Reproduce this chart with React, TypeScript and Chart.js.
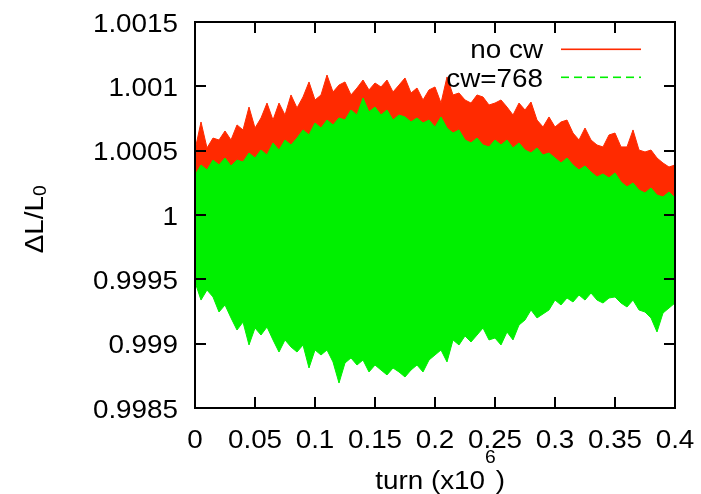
import React, { useEffect, useRef } from "react";
import { Chart, registerables } from "chart.js";

Chart.register(...registerables);

// turn (x10^6)
const turns = [
  0, 0.005, 0.01, 0.015, 0.02, 0.025, 0.03, 0.035, 0.04, 0.045,
  0.05, 0.055, 0.06, 0.065, 0.07, 0.075, 0.08, 0.085, 0.09, 0.095,
  0.1, 0.105, 0.11, 0.115, 0.12, 0.125, 0.13, 0.135, 0.14, 0.145,
  0.15, 0.155, 0.16, 0.165, 0.17, 0.175, 0.18, 0.185, 0.19, 0.195,
  0.2, 0.205, 0.21, 0.215, 0.22, 0.225, 0.23, 0.235, 0.24, 0.245,
  0.25, 0.255, 0.26, 0.265, 0.27, 0.275, 0.28, 0.285, 0.29, 0.295,
  0.3, 0.305, 0.31, 0.315, 0.32, 0.325, 0.33, 0.335, 0.34, 0.345,
  0.35, 0.355, 0.36, 0.365, 0.37, 0.375, 0.38, 0.385, 0.39, 0.395,
  0.4,
];

// "no cw": upper / lower envelope of the oscillation
const noCwUpper = [
  1.000505, 1.000723, 1.000521, 1.000598, 1.000583, 1.000653, 1.000583, 1.0007, 1.000661, 1.000839,
  1.000676, 1.000754, 1.00087, 1.000738, 1.00087, 1.000777, 1.000933, 1.000832, 1.000917, 1.001034,
  1.000894, 1.000933, 1.001088, 1.000956, 1.00101, 1.001034, 1.000933, 1.000987, 1.001049, 1.000972,
  1.001026, 1.000995, 1.001049, 1.000956, 1.00101, 1.001065, 1.000948, 1.000987, 1.000894, 1.000972,
  1.000995, 1.00087, 1.001073, 1.000933, 1.000948, 1.000894, 1.00087, 1.000933, 1.000917, 1.000855,
  1.00087, 1.000894, 1.000839, 1.000777, 1.00087, 1.000816, 1.000878, 1.000738, 1.000684, 1.000762,
  1.000684, 1.000723, 1.000738, 1.000637, 1.000583, 1.000676, 1.000583, 1.000544, 1.000529, 1.000622,
  1.000637, 1.000529, 1.000529, 1.000661, 1.000505, 1.00049, 1.000505, 1.000443, 1.000404, 1.000373,
  1.000389,
];
const noCwLower = [
  0.9996, 0.99946, 0.99955, 0.9995, 0.99938, 0.99943, 0.99933, 0.99922, 0.9993, 0.99912,
  0.99925, 0.99918, 0.99926, 0.99915, 0.99905, 0.99915, 0.9991, 0.99906, 0.99911, 0.99894,
  0.99908, 0.99903, 0.99907, 0.99898, 0.99885, 0.99897, 0.99901, 0.99895, 0.99899, 0.99891,
  0.99895, 0.99891, 0.99888, 0.99893, 0.9989, 0.99887, 0.99892, 0.99896, 0.9989, 0.999,
  0.99903, 0.99907, 0.99898, 0.99915, 0.99911, 0.99918, 0.99914, 0.99919, 0.99925, 0.99915,
  0.99917, 0.99912, 0.99922, 0.99915, 0.99928, 0.99931, 0.99938, 0.99933, 0.99935, 0.99938,
  0.99946, 0.99942, 0.99948, 0.99944, 0.9995, 0.99946, 0.99952, 0.99946, 0.99943, 0.99948,
  0.99949, 0.99944, 0.99941, 0.99946, 0.99938, 0.99937, 0.99933, 0.99922, 0.99936, 0.9994,
  0.99943,
];

// "cw=768": upper / lower envelope
const cw768Upper = [
  1.000311, 1.000389, 1.00035, 1.000427, 1.000389, 1.000443, 1.000381, 1.000427, 1.000412, 1.000482,
  1.000443, 1.000505, 1.000466, 1.00056, 1.000505, 1.000583, 1.000544, 1.000598, 1.000661, 1.000622,
  1.000715, 1.000676, 1.000738, 1.0007, 1.000754, 1.000738, 1.000816, 1.000777, 1.000909, 1.000801,
  1.000839, 1.000777, 1.000816, 1.000738, 1.000777, 1.000762, 1.000723, 1.000754, 1.000715, 1.000738,
  1.000684, 1.000762, 1.000676, 1.000637, 1.000661, 1.000583, 1.00056, 1.000598, 1.000544, 1.000529,
  1.000583, 1.000544, 1.000583, 1.000521, 1.00056, 1.000505, 1.000482, 1.000521, 1.000466, 1.000482,
  1.000443, 1.000404, 1.000443, 1.000389, 1.00035, 1.000381, 1.000334, 1.000295, 1.000319, 1.000288,
  1.000327, 1.000257, 1.000218, 1.000249, 1.000194, 1.000171, 1.00021, 1.000155, 1.00014, 1.000179,
  1.000132,
];
const cw768Lower = [
  0.999479, 0.999339, 0.999417, 0.999363, 0.999246, 0.999301, 0.9992, 0.999106, 0.999168, 0.99899,
  0.999122, 0.999067, 0.99913, 0.999029, 0.998935, 0.999029, 0.998974, 0.998935, 0.99899, 0.998811,
  0.998951, 0.998912, 0.998951, 0.998858, 0.998694, 0.99885, 0.998889, 0.998834, 0.998873, 0.99878,
  0.998834, 0.998795, 0.998757, 0.998811, 0.99878, 0.998741, 0.998795, 0.998834, 0.99878, 0.998873,
  0.998912, 0.998951, 0.998858, 0.999029, 0.99899, 0.99906, 0.999013, 0.999067, 0.999122, 0.999029,
  0.999044, 0.99899, 0.999091, 0.999029, 0.999145, 0.999184, 0.999262, 0.9992, 0.999231, 0.999262,
  0.999339, 0.999301, 0.999355, 0.999324, 0.999378, 0.999339, 0.999394, 0.999339, 0.999316, 0.999355,
  0.999363, 0.999316, 0.999285, 0.999339, 0.999262, 0.999246, 0.9992, 0.999091, 0.999238, 0.999277,
  0.999316,
];

const seriesLabels = ["no cw", "cw=768"];
const xTicks = [0, 0.05, 0.1, 0.15, 0.2, 0.25, 0.3, 0.35, 0.4];
const xTickLabels = ["0", "0.05", "0.1", "0.15", "0.2", "0.25", "0.3", "0.35", "0.4"];
const yTicks = [0.9985, 0.999, 0.9995, 1, 1.0005, 1.001, 1.0015];
const yTickLabels = ["0.9985", "0.999", "0.9995", "1", "1.0005", "1.001", "1.0015"];

const RED = "#ff2a00";
const GREEN = "#00f000";
const FONT = "'Liberation Sans', Arial, Helvetica, sans-serif";
const SX = 1.07;

function drawText(ctx: CanvasRenderingContext2D, text: string, x: number, y: number, align: CanvasTextAlign, size: number) {
  ctx.save();
  ctx.font = `${size}px ${FONT}`;
  ctx.fillStyle = "#000";
  ctx.textAlign = align;
  ctx.textBaseline = "alphabetic";
  ctx.translate(x, y);
  ctx.scale(SX, 1);
  ctx.fillText(text, 0, 0);
  ctx.restore();
}

function textW(ctx: CanvasRenderingContext2D, text: string, size: number) {
  ctx.save();
  ctx.font = `${size}px ${FONT}`;
  const w = ctx.measureText(text).width * SX;
  ctx.restore();
  return w;
}

const gnuplotFrame = {
  id: "gnuplotFrame",
  afterDraw(chart: any) {
    const ctx: CanvasRenderingContext2D = chart.ctx;
    const { left, right, top, bottom } = chart.chartArea;
    const xs = chart.scales.x;
    const ys = chart.scales.y;
    const T = 11;
    ctx.save();
    ctx.strokeStyle = "#000";
    ctx.lineWidth = 2;
    ctx.setLineDash([]);
    // ticks (inward, mirrored)
    ctx.beginPath();
    xs.ticks.forEach((t: any) => {
      const px = Math.round(xs.getPixelForValue(t.value));
      ctx.moveTo(px, bottom); ctx.lineTo(px, bottom - T);
      ctx.moveTo(px, top); ctx.lineTo(px, top + T);
    });
    ys.ticks.forEach((t: any) => {
      const py = Math.round(ys.getPixelForValue(t.value));
      ctx.moveTo(left, py); ctx.lineTo(left + T, py);
      ctx.moveTo(right, py); ctx.lineTo(right - T, py);
    });
    ctx.stroke();
    ctx.strokeRect(left, top, right - left, bottom - top);
    ctx.restore();

    // tick labels
    xs.ticks.forEach((t: any, i: number) => {
      const px = xs.getPixelForValue(t.value);
      drawText(ctx, xTickLabels[i], px, 448, "center", 26);
    });
    ys.ticks.forEach((t: any, i: number) => {
      const py = ys.getPixelForValue(t.value);
      drawText(ctx, yTickLabels[i], 178, py + 9.5, "right", 26);
    });

    // x title: turn (x10^6)
    const anchorX = 485;
    const w2 = textW(ctx, "6", 18);
    drawText(ctx, "turn (x10", anchorX, 489, "right", 26);
    drawText(ctx, "6", anchorX, 463, "left", 18);
    drawText(ctx, ")", anchorX + w2, 489, "left", 26);

    // y title: ΔL/L0 (rotated)
    ctx.save();
    ctx.translate(43, 215);
    ctx.rotate(-Math.PI / 2);
    drawText(ctx, "\u0394L/L", 19, 0, "right", 26);
    drawText(ctx, "0", 19, 3, "left", 18);
    ctx.restore();

    // legend
    drawText(ctx, seriesLabels[0], 543, 58, "right", 26);
    drawText(ctx, seriesLabels[1], 543, 87, "right", 26);
    ctx.save();
    ctx.fillStyle = RED;
    ctx.fillRect(561, 48.5, 80, 1.6);
    ctx.fillStyle = GREEN;
    for (let x = 561; x < 641; x += 13) {
      ctx.fillRect(x, 76.5, Math.min(8, 641 - x), 1.6);
    }
    ctx.restore();
  },
};

function pts(arr: number[]) {
  return turns.map((t, i) => ({ x: t, y: arr[i] }));
}

export default function App() {
  const ref = useRef<HTMLCanvasElement | null>(null);
  useEffect(() => {
    document.body.style.margin = "0";
    const canvas = ref.current!;
    const chart = new Chart(canvas, {
      type: "line",
      data: {
        datasets: [
          { label: seriesLabels[1], data: pts(cw768Upper), borderColor: GREEN, backgroundColor: GREEN, borderWidth: 1, pointRadius: 0, fill: "+1" },
          { label: seriesLabels[1] + " low", data: pts(cw768Lower), borderColor: GREEN, backgroundColor: GREEN, borderWidth: 1, pointRadius: 0, fill: false },
          { label: seriesLabels[0], data: pts(noCwUpper), borderColor: RED, backgroundColor: RED, borderWidth: 1, pointRadius: 0, fill: "+1" },
          { label: seriesLabels[0] + " low", data: pts(noCwLower), borderColor: RED, backgroundColor: RED, borderWidth: 1, pointRadius: 0, fill: false },
        ],
      } as any,
      options: {
        animation: false,
        responsive: false,
        devicePixelRatio: 1,
        layout: { padding: { left: 0, right: 26, top: 22, bottom: 0 } },
        plugins: { legend: { display: false }, tooltip: { enabled: false } },
        elements: { line: { tension: 0 } },
        scales: {
          x: {
            type: "linear",
            min: 0,
            max: 0.4,
            grid: { display: false },
            border: { display: false },
            ticks: { display: false },
            afterBuildTicks: (s: any) => { s.ticks = xTicks.map((v) => ({ value: v })); },
            afterFit: (s: any) => { s.height = 86; },
          },
          y: {
            type: "linear",
            min: 0.9985,
            max: 1.0015,
            grid: { display: false },
            border: { display: false },
            ticks: { display: false },
            afterBuildTicks: (s: any) => { s.ticks = yTicks.map((v) => ({ value: v })); },
            afterFit: (s: any) => { s.width = 195; },
          },
        },
      } as any,
      plugins: [gnuplotFrame],
    });
    return () => chart.destroy();
  }, []);
  return <canvas ref={ref} width={701} height={494} style={{ display: "block", width: 701, height: 494 }} />;
}
